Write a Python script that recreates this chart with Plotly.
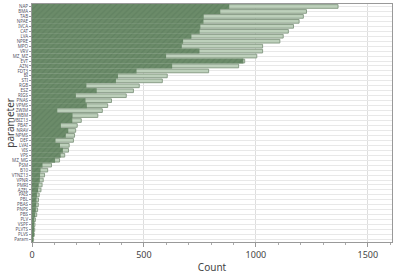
import plotly.graph_objects as go

parameters = ["NAP", "BMA", "TAB", "NPAE", "IVCA", "CAT", "LVA", "NPRE", "MPO", "VRV",
              "MZ_MZ", "EVT", "AZN", "FDT3", "BI", "STI", "RGB", "ESZ", "RIGS", "PNAS",
              "VPMS", "ZWIM", "WBM", "VBIZ13", "PBAT", "NRAV", "NPMS", "DEF", "LVAI", "VIS",
              "VPS", "MZ_MG", "PSM", "B10", "VTNZ13", "VPNR", "PMRI", "AZEL", "PAIS", "PBL",
              "PBAS", "PNPS", "PBS", "PLV", "VSPF", "PLVTS", "PLVS", "Param"]

dark_counts = [881, 841, 767, 766, 752, 749, 712, 675, 669, 748,
               599, 944, 626, 467, 384, 375, 243, 289, 196, 239,
               245, 113, 181, 180, 129, 162, 151, 105, 125, 138,
               128, 103, 47, 38, 36, 35, 30, 27, 22, 20,
               19, 17, 14, 10, 9, 8, 6, 4]

total_counts = [1367, 1226, 1212, 1193, 1168, 1145, 1122, 1107, 1030, 1030,
                1004, 950, 923, 789, 604, 582, 479, 453, 421, 355,
                338, 314, 294, 220, 202, 195, 190, 185, 166, 163,
                146, 123, 87, 70, 56, 50, 45, 40, 32, 29,
                28, 25, 21, 15, 13, 12, 10, 7]

x_ticks = [0, 500, 1000, 1500]

fig = go.Figure()
fig.add_trace(go.Bar(
    y=parameters, x=total_counts, orientation="h", width=0.74,
    marker=dict(color="#bdd0bb", line=dict(color="#8a9e88", width=1)),
    showlegend=False,
))
fig.add_trace(go.Bar(
    y=parameters, x=dark_counts, orientation="h", width=1.0,
    marker=dict(color="#6b8b69", line=dict(width=0),
                pattern=dict(shape="/", fgcolor="#58785a", size=4, solidity=0.3,
                             fillmode="overlay")),
    showlegend=False,
))

fig.update_layout(
    width=400, height=275,
    margin=dict(l=32, r=8, t=3, b=28),
    barmode="overlay",
    plot_bgcolor="white", paper_bgcolor="white",
    font=dict(family="Noto Sans, Open Sans, sans-serif", color="#444"),
    xaxis=dict(
        range=[0, 1608], tickvals=x_ticks, ticktext=[str(v) for v in x_ticks],
        tickfont=dict(size=9, color="#444"),
        showgrid=True, gridcolor="#dedede", gridwidth=1,
        showline=True, linecolor="#999", linewidth=1, mirror=True,
        ticks="outside", ticklen=4, tickcolor="#999",
        minor=dict(dtick=100, ticks="outside", ticklen=2, tickcolor="#aaa", showgrid=False),
        title=dict(text="Count", font=dict(size=10, color="#444"), standoff=4),
        zeroline=False,
    ),
    yaxis=dict(
        categoryorder="array", categoryarray=parameters, autorange="reversed",
        tickmode="array", tickvals=parameters, ticktext=parameters,
        tickfont=dict(size=4.5, color="#556"),
        showgrid=True, gridcolor="#e8e8e8", gridwidth=1,
        showline=True, linecolor="#999", linewidth=1, mirror=True,
        ticks="outside", ticklen=2, tickcolor="#999",
    ),
    annotations=[dict(
        text="parameter", textangle=-90, xref="paper", yref="paper",
        x=-0.062, y=0.5, xanchor="center", yanchor="middle", showarrow=False,
        font=dict(size=10, color="#444"),
    )],
)

fig.write_html("out.html")
